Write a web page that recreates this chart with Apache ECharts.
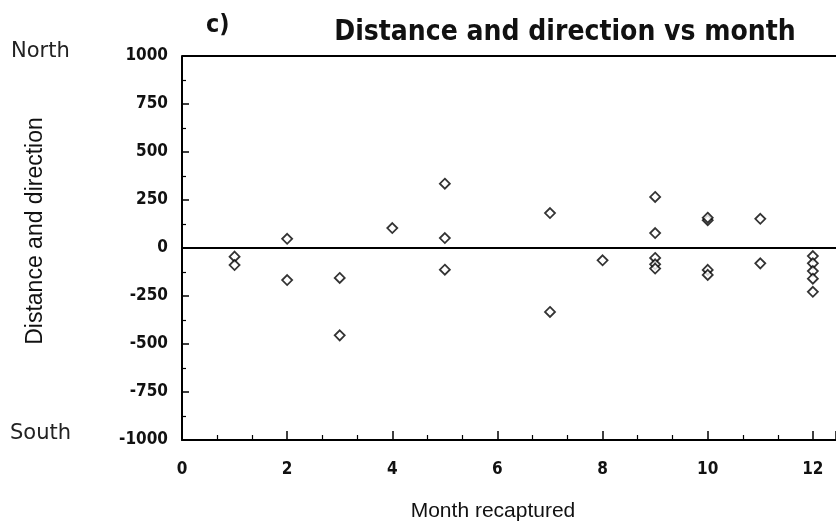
<!DOCTYPE html>
<html>
<head>
<meta charset="utf-8">
<script src="https://cdn.jsdelivr.net/npm/echarts@6/dist/echarts.min.js"></script>
<style>
  html, body { margin: 0; padding: 0; background: #fff; }
  #chart { width: 836px; height: 524px; }
</style>
</head>
<body>
<div id="chart"></div>
<script>
// month recaptured and signed distance (north +, south -)
const months = [1, 1, 2, 2, 3, 3, 4, 5, 5, 5, 7, 7, 8, 9, 9, 9, 9, 9, 10, 10, 10, 10, 11, 11, 12, 12, 12, 12, 12]
const distances = [-45, -89, 48, -167, -156, -455, 104, 335, 52, -113, 182, -333, -64, 266, 78, -52, -85, -107, 145, 158, -114, -140, 152, -80, -42, -80, -120, -160, -228]
const yTicks = [-1000, -750, -500, -250, 0, 250, 500, 750, 1000]

const chart = echarts.init(document.getElementById('chart'))

const points = months.map((m, i) => [m, distances[i]])

chart.setOption({
  animation: false,
  backgroundColor: '#fff',
  title: {
    text: 'Distance and direction vs month',
    left: 560,
    top: 14,
    textAlign: 'center',
    textStyle: {
      fontFamily: 'DejaVu Sans Condensed',
      fontSize: 28,
      fontWeight: 'bold',
      color: '#111'
    }
  },
  graphic: [
    { type: 'text', left: 206, top: 13, style: { text: 'c)', font: 'bold 25px "DejaVu Sans Condensed"', fill: '#111' } },
    { type: 'text', x: 11, y: 52, style: { text: 'North', font: '21px "DejaVu Sans"', fill: '#222', verticalAlign: 'middle' } },
    { type: 'text', x: 10, y: 434, style: { text: 'South', font: '21px "DejaVu Sans"', fill: '#222', verticalAlign: 'middle' } },
    {
      type: 'text', x: 36, y: 231, rotation: Math.PI / 2,
      style: { text: 'Distance and direction', font: '23px "Liberation Sans"', fill: '#111', align: 'center', verticalAlign: 'middle' }
    },
    {
      type: 'text', x: 493, y: 511,
      style: { text: 'Month recaptured', font: '21px "Liberation Sans"', fill: '#111', align: 'center', verticalAlign: 'middle' }
    }
  ],
  grid: {
    left: 182,
    right: 0,
    top: 56,
    bottom: 84
  },
  xAxis: {
    type: 'value',
    min: 0,
    max: 12.44,
    interval: 2,
    axisLine: { onZero: false, lineStyle: { color: '#000', width: 2 } },
    axisTick: { inside: true, length: 9, lineStyle: { color: '#000', width: 1.5 } },
    minorTick: { show: true, splitNumber: 3, length: 5, lineStyle: { color: '#000', width: 1.2 } },
    axisLabel: {
      showMaxLabel: false,
      margin: 21,
      fontFamily: 'DejaVu Sans Condensed',
      fontWeight: 'bold',
      fontSize: 17,
      color: '#111'
    },
    splitLine: { show: false }
  },
  yAxis: {
    type: 'value',
    min: yTicks[0],
    max: yTicks[yTicks.length - 1],
    interval: 250,
    axisLine: { show: true, lineStyle: { color: '#000', width: 2 } },
    axisTick: { show: true, inside: true, length: 7, lineStyle: { color: '#000', width: 1.5 } },
    minorTick: { show: true, splitNumber: 2, length: 4, lineStyle: { color: '#000', width: 1.2 } },
    axisLabel: {
      margin: 14,
      formatter: v => String(v),
      fontFamily: 'DejaVu Sans Condensed',
      fontWeight: 'bold',
      fontSize: 17,
      color: '#111'
    },
    splitLine: { show: false }
  },
  series: [
    {
      type: 'scatter',
      data: points,
      symbol: 'diamond',
      symbolSize: 10,
      itemStyle: { color: '#fff', borderColor: '#000', borderWidth: 1.8 },
      markLine: {
        silent: true,
        symbol: 'none',
        label: { show: false },
        lineStyle: { color: '#000', type: 'solid', width: 2 },
        data: [{ yAxis: 0 }, { yAxis: 1000 }]
      },
      z: 3
    }
  ]
})
</script>
</body>
</html>
